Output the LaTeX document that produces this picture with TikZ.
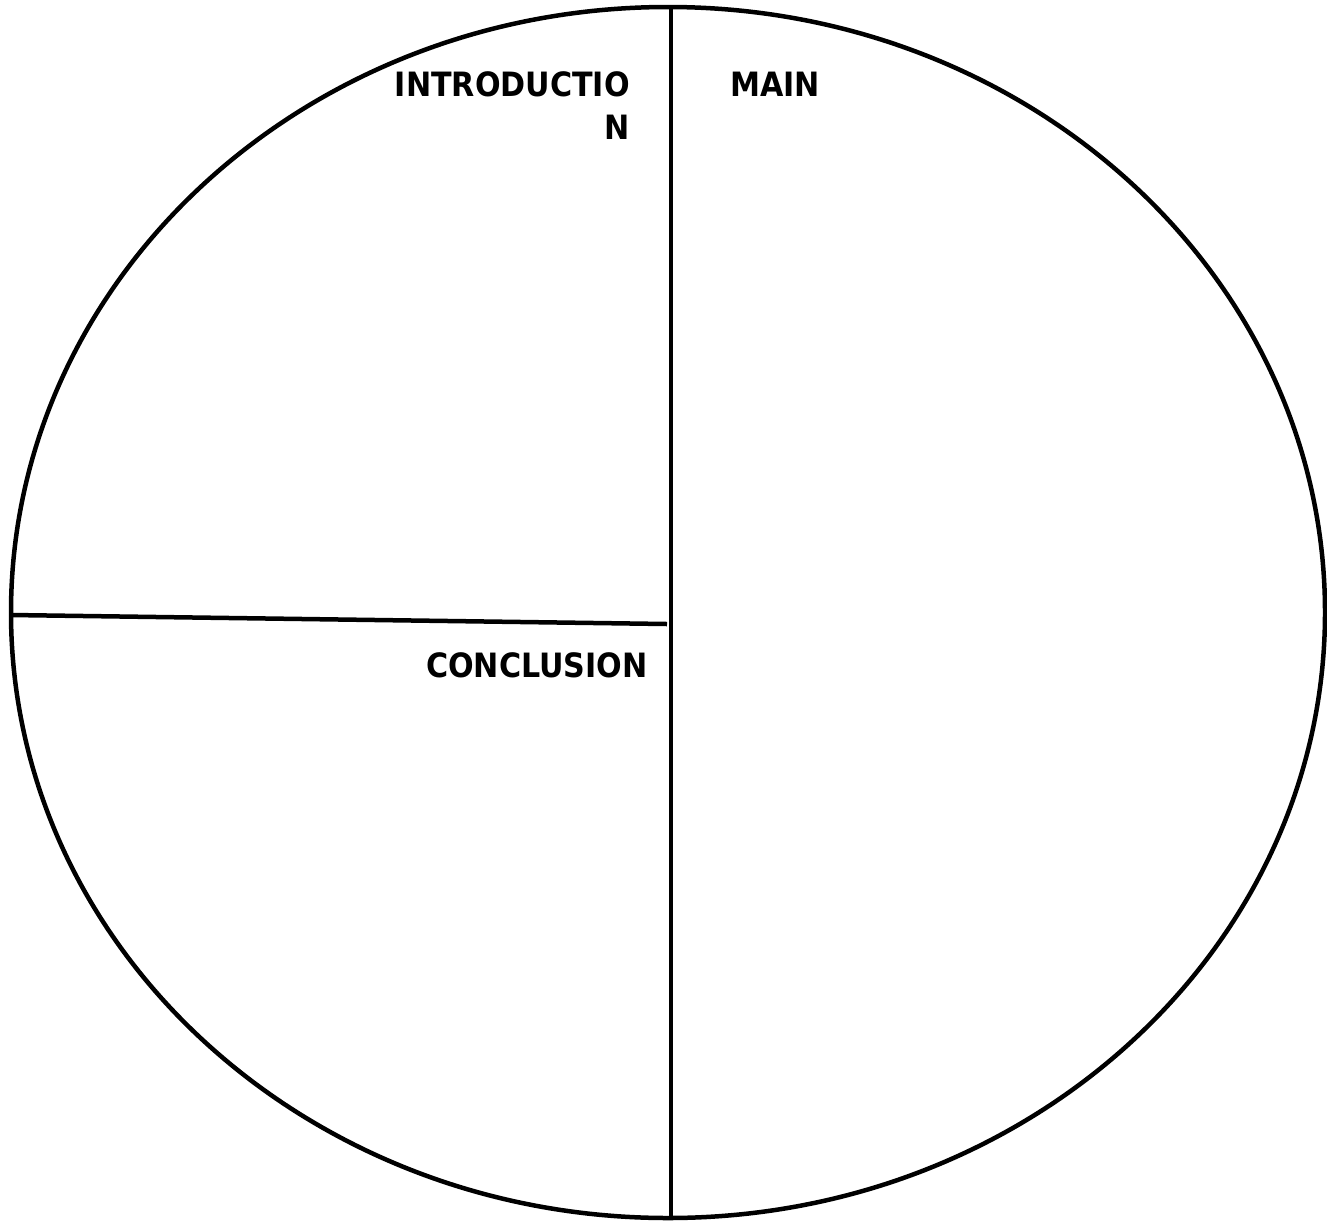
\documentclass[tikz,border=0pt]{standalone}
\usepackage{fontspec}
\setmainfont{DejaVu Sans Condensed}
\begin{document}
\begin{tikzpicture}[x=1pt,y=-1pt,
  outline/.style={line width=4.5pt,black},
  lbl/.style={inner sep=0pt,font=\fontsize{33.5}{43}\selectfont\bfseries}]
\useasboundingbox (0,0) rectangle (1327,1221);
\fill[white] (0,0) rectangle (1327,1221);
\coordinate (c) at (668,612.5);
\draw[outline] (c) ellipse [x radius=657, y radius=605.5];
\coordinate (vtop) at (671,7);
\coordinate (vbot) at (671,1218);
\draw[outline] (vtop) -- (vbot);
\coordinate (hleft) at (11,615);
\coordinate (hright) at (667,624);
\draw[outline] (hleft) -- (hright);
\node[lbl,anchor=base east] (intro1) at (630,96) {INTRODUCTIO};
\node[lbl,anchor=base east] (intro2) at (630,139) {N};
\node[lbl,anchor=base west] (main) at (730,96) {MAIN};
\node[lbl,anchor=base west] (concl) at (426,677) {CONCLUSION};
\end{tikzpicture}
\end{document}
